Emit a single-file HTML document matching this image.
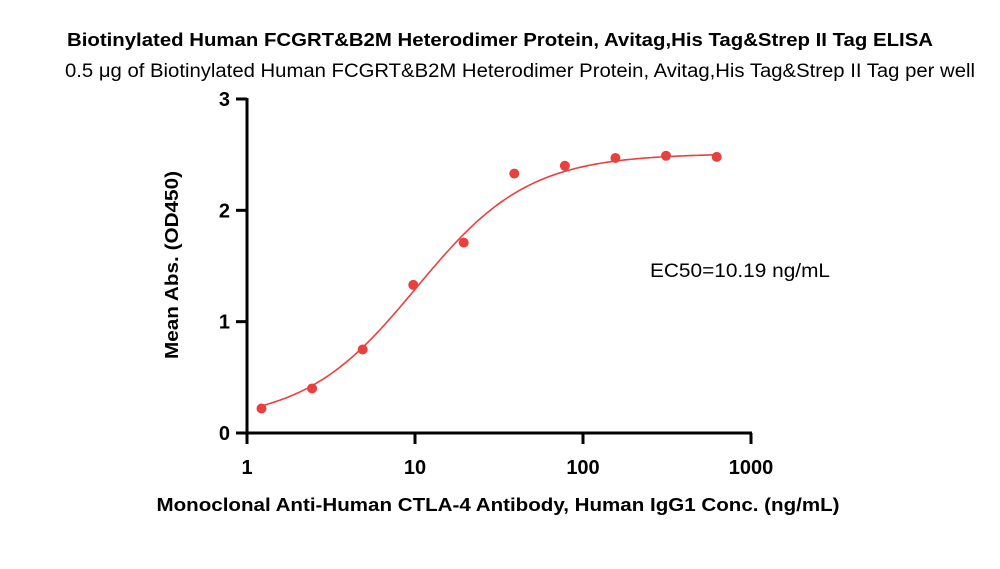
<!DOCTYPE html>
<html><head><meta charset="utf-8"><style>
body{margin:0;background:#fff;}
svg{display:block;font-family:"Liberation Sans",sans-serif;}
</style></head><body>
<svg id="chart" width="1000" height="569" viewBox="0 0 1000 569">
<text x="500" y="46" text-anchor="middle" font-size="18" font-weight="bold" textLength="866" lengthAdjust="spacingAndGlyphs">Biotinylated Human FCGRT&amp;B2M Heterodimer Protein, Avitag,His Tag&amp;Strep II Tag ELISA</text>
<text x="520" y="77" text-anchor="middle" font-size="19" textLength="910" lengthAdjust="spacingAndGlyphs">0.5 μg of Biotinylated Human FCGRT&amp;B2M Heterodimer Protein, Avitag,His Tag&amp;Strep II Tag per well</text>
<text transform="translate(178,265) rotate(-90)" text-anchor="middle" font-size="18" font-weight="bold" textLength="188" lengthAdjust="spacingAndGlyphs">Mean Abs. (OD450)</text>
<text x="498" y="511" text-anchor="middle" font-size="18" font-weight="bold" textLength="683" lengthAdjust="spacingAndGlyphs">Monoclonal Anti-Human CTLA-4 Antibody, Human IgG1 Conc. (ng/mL)</text>
<text x="650" y="277" font-size="19" textLength="180" lengthAdjust="spacingAndGlyphs">EC50=10.19 ng/mL</text>
<g id="plot"></g>
</svg>
<script>
const xValues=[1.22,2.44,4.88,9.77,19.5,39,78,156,312,625];
const yValues=[0.22,0.40,0.75,1.33,1.71,2.33,2.40,2.47,2.49,2.48];
const xTicks=[1,10,100,1000];
const xTickLabels=["1","10","100","1000"];
const yTicks=[0,1,2,3];
const yTickLabels=["0","1","2","3"];
const fitBottom=0.10, fitTop=2.51, fitEC50=10.19, fitHill=1.3;

const X0=247,X1=751,Y0=433,Y1=99;
const xs=v=>X0+(Math.log10(v)-0)/3*(X1-X0);
const ys=v=>Y0-(v/3)*(Y0-Y1);
const NS="http://www.w3.org/2000/svg";
const g=document.getElementById('plot');
function mk(t,a){const e=document.createElementNS(NS,t);for(const k in a)e.setAttribute(k,a[k]);g.appendChild(e);return e;}

let e=mk('line',{x1:X0,y1:Y0,x2:X1+1,y2:Y0,stroke:'#000','stroke-width':3});


e=mk('line',{x1:X0,y1:Y1-1,x2:X0,y2:Y0+1,stroke:'#000','stroke-width':3});



xTicks.forEach((v,i)=>{
 let t=mk('line',{x1:xs(v),y1:Y0,x2:xs(v),y2:Y0+11,stroke:'#000','stroke-width':3});
 
 
 let l=mk('text',{x:xs(v),y:Y0+41,'text-anchor':'middle','font-size':20,'font-weight':'bold'});
 l.textContent=xTickLabels[i];
 
 
});
yTicks.forEach((v,i)=>{
 let t=mk('line',{x1:X0-11,y1:ys(v),x2:X0,y2:ys(v),stroke:'#000','stroke-width':3});
 
 
 let l=mk('text',{x:X0-17,y:ys(v)+7,'text-anchor':'end','font-size':20,'font-weight':'bold'});
 l.textContent=yTickLabels[i];
 
 
});

let d='';
const lo=Math.log10(xValues[0]),hi=Math.log10(xValues[xValues.length-1]);
for(let i=0;i<=200;i++){
 const lx=lo+(hi-lo)*i/200, x=Math.pow(10,lx);
 const r=Math.pow(x/fitEC50,fitHill);
 const y=fitBottom+(fitTop-fitBottom)*r/(1+r);
 d+=(i?'L':'M')+xs(x).toFixed(2)+','+ys(y).toFixed(2);
}
e=mk('path',{d:d,fill:'none',stroke:'#e8403f','stroke-width':1.6});



xValues.forEach((v,i)=>{
 let c=mk('circle',{cx:xs(v),cy:ys(yValues[i]),r:5,fill:'#e8403f'});
 
 
});
</script>
</body></html>
